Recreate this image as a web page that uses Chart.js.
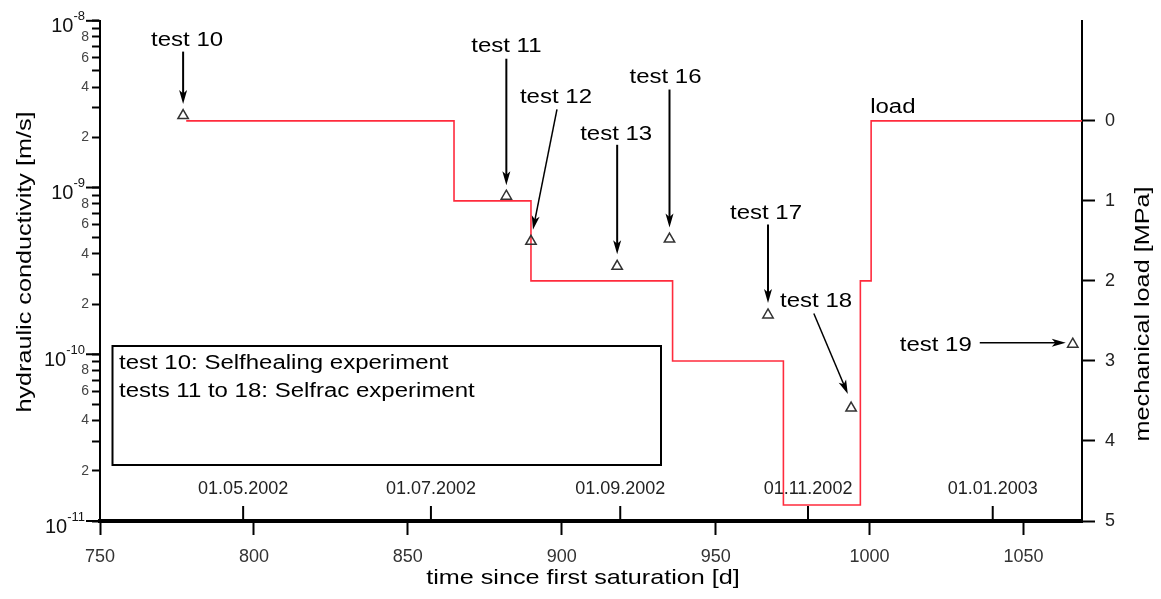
<!DOCTYPE html>
<html>
<head>
<meta charset="utf-8">
<title>Hydraulic conductivity and mechanical load</title>
<script src="https://cdn.jsdelivr.net/npm/chart.js@4.4.0/dist/chart.umd.min.js"></script>
<style>
    html, body { margin: 0; padding: 0; background: #fff; }
    #wrap { width: 1161px; height: 599px; position: relative; }
</style>
</head>
<body>
<div id="wrap"><canvas id="chart"></canvas></div>
<script>
// Test results (left axis, hydraulic conductivity in m/s)
const testNames = ['test 10', 'test 11', 'test 12', 'test 13', 'test 16', 'test 17', 'test 18', 'test 19'];
const testDays = [777, 882, 890, 918, 935, 967, 994, 1066];
const testConductivity = [2.70e-9, 8.87e-10, 4.76e-10, 3.37e-10, 4.91e-10, 1.72e-10, 4.76e-11, 1.15e-10];

// Mechanical load steps (right axis, MPa); each value holds up to its day
const loadDays = [778, 865, 890, 936, 972, 997, 1000.5, 1069];
const loadValues = [0, 1, 2, 3, 4.8, 2, 0, 0];

// Axis ticks
const dayTicks = [750, 800, 850, 900, 950, 1000, 1050];
const conductivityDecades = [-11, -10, -9, -8];
const conductivityMantissas = [1, 2, 3, 4, 5, 6, 7, 8, 9];
const labelledMantissas = [2, 4, 6, 8];
const loadTicks = [0, 1, 2, 3, 4, 5];

// Calendar dates shown along the time axis
const dateDays = [796.5, 857.5, 919, 980, 1040];
const dateLabels = ['01.05.2002', '01.07.2002', '01.09.2002', '01.11.2002', '01.01.2003'];

// Legend box lines
const noteLines = ['test 10: Selfhealing experiment', 'tests 11 to 18: Selfrac experiment'];

// Callout placement relative to each test marker (pixels)
const callouts = [
    { label: [4, -75.5], from: [0, -64], to: [0, -11.5], width: 2 },
    { label: [0, -149.5], from: [0, -137.5], to: [0, -11], width: 2 },
    { label: [25, -144], from: [26, -132], to: [2, -11.5], width: 1.5 },
    { label: [-1, -132], from: [0, -121.5], to: [0, -12], width: 2 },
    { label: [-4, -161.5], from: [0, -149.5], to: [0, -11.5], width: 2 },
    { label: [-2, -102], from: [0, -90.5], to: [0, -12], width: 2 },
    { label: [-35, -106.7], from: [-37.3, -94.5], to: [-3.3, -14], width: 1.5 },
    { label: [-137, 1], from: [-93, -1.5], to: [-7, -1.5], width: 1.5 }
];

const FONT = 'Liberation Sans, Arial, sans-serif';

// Build the log tick list
const conductivityTicks = [];
conductivityDecades.forEach(exp => {
    conductivityMantissas.forEach(m => {
        if (exp === -8 && m > 1) return;
        conductivityTicks.push(m * Math.pow(10, exp));
    });
});

function mantissaOf(v) {
    const exp = Math.floor(Math.log10(v) + 1e-9);
    return Math.round(v / Math.pow(10, exp));
}

// Text with the slightly wide lettering of the original
function drawText(ctx, text, x, y, opts) {
    ctx.save();
    ctx.translate(x, y);
    if (opts.rotate) ctx.rotate(opts.rotate);
    ctx.scale(opts.stretch || 1, 1);
    ctx.font = opts.font;
    ctx.textAlign = opts.align || 'center';
    ctx.textBaseline = 'middle';
    ctx.fillStyle = opts.color || '#000';
    ctx.fillText(text, 0, 0);
    ctx.restore();
}

function drawArrow(ctx, x1, y1, x2, y2, width) {
    const ang = Math.atan2(y2 - y1, x2 - x1);
    const cos = Math.cos(ang), sin = Math.sin(ang);
    const head = 14, half = 4;
    ctx.strokeStyle = '#000';
    ctx.fillStyle = '#000';
    ctx.lineWidth = width;
    ctx.beginPath();
    ctx.moveTo(x1, y1);
    ctx.lineTo(x2 - cos * head * 0.7, y2 - sin * head * 0.7);
    ctx.stroke();
    const bx = x2 - cos * head, by = y2 - sin * head;
    ctx.beginPath();
    ctx.moveTo(x2, y2);
    ctx.lineTo(bx - half * sin, by + half * cos);
    ctx.lineTo(x2 - cos * head * 0.75, y2 - sin * head * 0.75);
    ctx.lineTo(bx + half * sin, by - half * cos);
    ctx.closePath();
    ctx.fill();
}

// Extra drawing: decade labels, date ticks, titles, legend box, callouts
const decorations = {
    id: 'decorations',
    afterDraw(chart) {
        const ctx = chart.ctx;
        const area = chart.chartArea;
        const xs = chart.scales.x;
        const ys = chart.scales.y;
        const ls = chart.scales.load;
        ctx.save();

        // long ticks and 10^n labels on the decades
        ctx.strokeStyle = '#000';
        ctx.lineWidth = 2;
        conductivityDecades.forEach(exp => {
            const py = ys.getPixelForValue(Math.pow(10, exp));
            ctx.beginPath();
            ctx.moveTo(area.left - 14, py);
            ctx.lineTo(area.left, py);
            ctx.stroke();
            const sup = String(exp);
            ctx.font = '13px ' + FONT;
            const supW = ctx.measureText(sup).width;
            drawText(ctx, sup, area.left - 15, py - 4, { font: '13px ' + FONT, align: 'right', color: '#111' });
            drawText(ctx, '10', area.left - 15 - supW, py + 6, { font: '20px ' + FONT, align: 'right', color: '#111' });
        });

        // calendar dates along the time axis
        ctx.lineWidth = 2;
        dateDays.forEach((d, i) => {
            const px = xs.getPixelForValue(d);
            ctx.beginPath();
            ctx.moveTo(px, area.bottom - 15);
            ctx.lineTo(px, area.bottom);
            ctx.stroke();
            drawText(ctx, dateLabels[i], px, area.bottom - 32, { font: '18px ' + FONT, color: '#222' });
        });

        // axis titles
        drawText(ctx, 'hydraulic conductivity [m/s]', 25, 262, { font: '21px ' + FONT, rotate: -Math.PI / 2, stretch: 1.2 });
        drawText(ctx, 'time since first saturation [d]', 583, 578, { font: '21px ' + FONT, stretch: 1.2 });
        drawText(ctx, 'mechanical load [MPa]', 1143, 314, { font: '21px ' + FONT, rotate: -Math.PI / 2, stretch: 1.2 });

        // legend box
        ctx.lineWidth = 2;
        ctx.strokeStyle = '#000';
        ctx.strokeRect(112.5, 346, 548.5, 119);
        noteLines.forEach((t, i) => {
            drawText(ctx, t, 119, 363 + i * 28.5, { font: '20px ' + FONT, align: 'left', stretch: 1.2 });
        });

        // load label at the last step
        drawText(ctx, 'load', xs.getPixelForValue(loadDays[6]) - 1, ls.getPixelForValue(0) - 13,
            { font: '20px ' + FONT, align: 'left', stretch: 1.2 });

        // callouts for each test
        testDays.forEach((d, i) => {
            const px = xs.getPixelForValue(d);
            const py = ys.getPixelForValue(testConductivity[i]);
            const c = callouts[i];
            drawText(ctx, testNames[i], px + c.label[0], py + c.label[1], { font: '20px ' + FONT, stretch: 1.2 });
            drawArrow(ctx, px + c.from[0], py + c.from[1], px + c.to[0], py + c.to[1], c.width);
        });

        ctx.restore();
    }
};

function setTicks(values) {
    return scale => { scale.ticks = values.map(v => ({ value: v })); };
}

document.addEventListener('DOMContentLoaded', function() {
    const ctx = document.getElementById('chart').getContext('2d');

    new Chart(ctx, {
        type: 'line',
        data: {
            datasets: [
                {
                    label: 'load',
                    data: loadDays.map((d, i) => ({ x: d, y: loadValues[i] })),
                    yAxisID: 'load',
                    stepped: 'before',
                    borderColor: '#ff2b3d',
                    borderWidth: 1.6,
                    pointRadius: 0,
                    fill: false,
                    order: 2
                },
                {
                    label: 'tests',
                    data: testDays.map((d, i) => ({ x: d, y: testConductivity[i] })),
                    yAxisID: 'y',
                    showLine: false,
                    pointStyle: 'triangle',
                    pointRadius: 6,
                    borderColor: '#333',
                    backgroundColor: 'rgba(0,0,0,0)',
                    borderWidth: 1.5,
                    order: 1
                }
            ]
        },
        options: {
            responsive: true,
            maintainAspectRatio: false,
            animation: false,
            layout: { padding: { top: 18 } },
            plugins: {
                legend: { display: false },
                tooltip: { enabled: false }
            },
            scales: {
                x: {
                    type: 'linear',
                    position: 'bottom',
                    min: 750,
                    max: 1069,
                    afterBuildTicks: setTicks(dayTicks),
                    afterFit: scale => { scale.height = 78; },
                    border: { display: true, color: '#000', width: 4 },
                    grid: { drawOnChartArea: false, tickLength: 14, tickWidth: 2, tickColor: '#000' },
                    ticks: {
                        font: { family: FONT, size: 18 },
                        color: '#333',
                        padding: 11,
                        maxRotation: 0,
                        callback: v => String(v)
                    }
                },
                y: {
                    type: 'logarithmic',
                    position: 'left',
                    min: 1e-11,
                    max: 1e-8,
                    afterBuildTicks: setTicks(conductivityTicks),
                    afterFit: scale => { scale.width = 100; },
                    border: { display: true, color: '#000', width: 2 },
                    grid: { drawOnChartArea: false, tickLength: 8, tickWidth: 2, tickColor: '#000' },
                    ticks: {
                        font: { family: FONT, size: 14 },
                        color: '#444',
                        padding: 3,
                        autoSkip: false,
                        callback: v => {
                            const m = mantissaOf(v);
                            return labelledMantissas.includes(m) ? String(m) : '';
                        }
                    }
                },
                load: {
                    type: 'linear',
                    position: 'right',
                    reverse: true,
                    min: -1.25,
                    max: 5,
                    afterBuildTicks: setTicks(loadTicks),
                    afterFit: scale => { scale.width = 79; },
                    border: { display: true, color: '#000', width: 2 },
                    grid: { drawOnChartArea: false, tickLength: 13, tickWidth: 2, tickColor: '#000' },
                    ticks: { font: { family: FONT, size: 18 }, color: '#222', padding: 10 }
                }
            }
        },
        plugins: [decorations]
    });
});
</script>
</body>
</html>
